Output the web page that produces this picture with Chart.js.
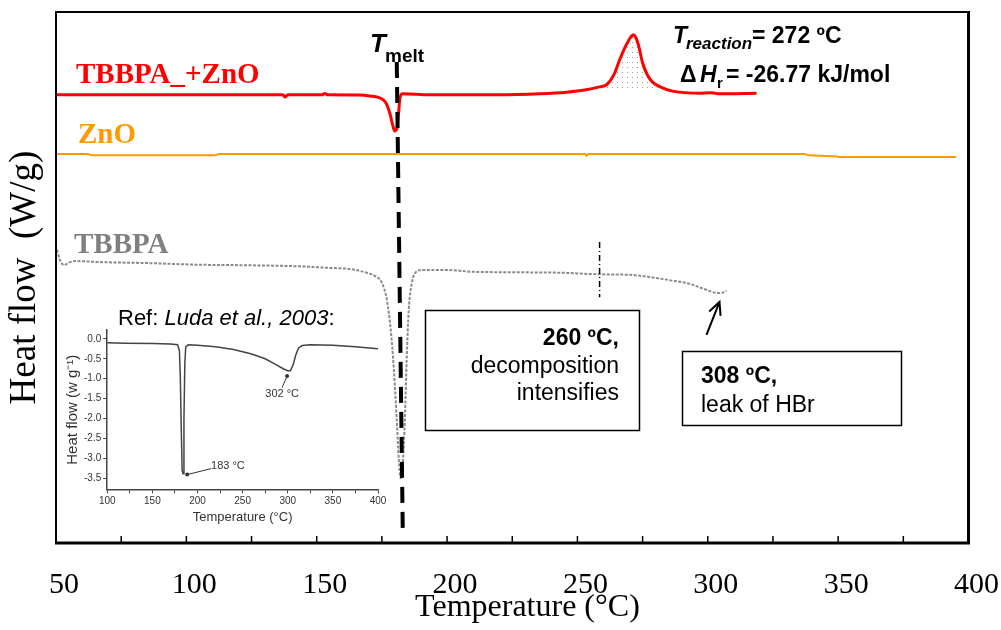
<!DOCTYPE html>
<html>
<head>
<meta charset="utf-8">
<script src="https://cdn.jsdelivr.net/npm/chart.js@4.4.0/dist/chart.umd.min.js"></script>
<style>
  body { margin: 0; background: #fff; }
  #wrap { position: relative; width: 1001px; height: 630px; }
  #main { position: absolute; left: 0; top: 0; }
  #inset { position: absolute; left: 40px; top: 322px; }
</style>
</head>
<body>
<div id="wrap">
  <canvas id="main" width="1001" height="630"></canvas>
  <canvas id="inset" width="350" height="205"></canvas>
</div>
<script>
// main DSC curves: temperature (°C) and heat flow (arbitrary, offset curves)
const tbbpaZnoT = [50, 86, 137, 137.8, 138.9, 152, 153.1, 154.3, 166.5, 170.4, 174.2, 176.5, 178, 179.2, 179.9,
  180.7, 181.5, 181.9, 183, 193.3, 220.2, 235.5, 245.9, 252.8, 258.5, 261.2, 263.9, 266.2, 268.1, 269.7,
  270.8, 271.5, 272.3, 273.4, 275, 276.9, 278.8, 282.6, 286.5, 296.8, 301.4, 304.5, 318.7];
const tbbpaZnoHF = [84.4, 84.4, 84.4, 84.0, 84.4, 84.4, 84.65, 84.4, 84.37, 84.18, 83.8, 82.9, 81.0, 78.6, 77.6,
  78.0, 81.5, 83.8, 84.6, 84.4, 84.4, 84.6, 84.9, 85.3, 85.9, 86.3, 88.1, 91.0, 93.2, 94.7,
  95.5, 95.7, 95.3, 93.8, 90.4, 88.1, 86.8, 85.7, 85.1, 84.7, 84.8, 84.6, 84.7];

const znoT = [50, 62.3, 63.8, 111, 112.5, 252.8, 253.5, 254.3, 337, 339, 349.7, 350.5, 395.3];
const znoHF = [73.26, 73.26, 73.0, 73.0, 73.26, 73.26, 72.9, 73.26, 73.26, 73.0, 72.8, 72.7, 72.7];

const tbbpaT = [50.4, 51.5, 53.1, 55.4, 57.3, 66.9, 86, 105.2, 124.4, 143.5, 155, 162.7, 168.4, 172.3, 175,
  176.9, 178.4, 179.6, 180.7, 181.5, 182.2, 183, 183.8, 184.5, 185.3, 186.5, 188, 190.3, 201, 208.7,
  220.2, 243.2, 258.5, 270, 277.7, 285.3, 293, 298.8, 303.7, 305.3, 307.2];
const tbbpaHF = [55.2, 53.3, 52.35, 52.9, 53.1, 52.9, 52.7, 52.4, 52.3, 52.1, 51.8, 51.6, 51.0, 50.3, 49.0,
  45.8, 40.1, 32.6, 23.2, 15.6, 12.2, 14.7, 23.2, 34.5, 43.9, 49.0, 51.0, 51.4, 51.4, 51.1,
  51.0, 50.9, 50.6, 50.5, 50.1, 49.5, 48.8, 47.8, 47.1, 47.1, 47.5];

// reaction peak integration window and its baseline
const peakRange = [248, 292];
const peakBaseline = 85.3;

// marker lines
const meltT = [180.7, 183.0];
const meltHF = [90.6, 2.45];
const decompT = [258.5, 258.5];
const decompHF = [56.7, 46.3];
const leakArrowT = [299.5, 304.5];
const leakArrowHF = [39.2, 45.4];

const xTicks = [50, 100, 150, 200, 250, 300, 350, 400];

// inset (Luda et al., 2003)
const insetT = [100, 120, 150, 170, 178, 180, 181, 182, 183, 184, 185, 186, 187, 190, 200, 220, 240, 260, 275, 285,
  295, 300, 303, 306, 309, 312, 316, 325, 350, 375, 400];
const insetHF = [-0.10, -0.11, -0.12, -0.13, -0.15, -0.3, -1.0, -2.2, -3.3, -3.38, -2.0, -0.6, -0.2, -0.15, -0.16,
  -0.2, -0.27, -0.38, -0.5, -0.62, -0.75, -0.8, -0.8, -0.65, -0.4, -0.23, -0.17, -0.15, -0.16, -0.2, -0.25];
const insetXTicks = [100, 150, 200, 250, 300, 350, 400];
const insetYTicks = [0, -0.5, -1.0, -1.5, -2.0, -2.5, -3.0, -3.5];

const pts = (xs, ys) => xs.map((v, i) => ({ x: v, y: ys[i] }));

const redPts = pts(tbbpaZnoT, tbbpaZnoHF);
const peakPts = redPts.filter(p => p.x >= peakRange[0] && p.x <= peakRange[1]);

const mainCanvas = document.getElementById('main');
const mctx = mainCanvas.getContext('2d');

function dotPattern() {
  const c = document.createElement('canvas');
  c.width = 5; c.height = 5;
  const g = c.getContext('2d');
  g.fillStyle = '#9a9a9a';
  g.fillRect(2, 2, 1, 1);
  return mctx.createPattern(c, 'repeat');
}

function drawPieces(ctx, x, y, pieces) {
  // pieces: [text, font, dx, dy]
  pieces.forEach(p => {
    ctx.font = p[1];
    ctx.fillText(p[0], x + p[2], y + p[3]);
  });
}

const decorations = {
  id: 'decorations',
  afterDatasetsDraw(chart) {
    const { ctx, chartArea: a, scales: { x, y } } = chart;
    ctx.save();
    ctx.strokeStyle = '#000';
    ctx.lineWidth = 2;
    ctx.strokeRect(a.left, a.top, a.right - a.left, a.bottom - a.top);
    ctx.lineWidth = 3;
    ctx.beginPath();
    ctx.moveTo(a.left - 1, a.bottom);
    ctx.lineTo(a.right, a.bottom);
    ctx.lineTo(a.right, a.top - 1);
    ctx.stroke();

    // inward ticks
    ctx.lineWidth = 1.5;
    x.ticks.forEach(t => {
      const px = x.getPixelForValue(t.value);
      ctx.beginPath();
      ctx.moveTo(px, a.bottom);
      ctx.lineTo(px, a.bottom - 7);
      ctx.stroke();
    });

    // arrow to HBr leak
    const x0 = x.getPixelForValue(leakArrowT[0]), y0 = y.getPixelForValue(leakArrowHF[0]);
    const x1 = x.getPixelForValue(leakArrowT[1]), y1 = y.getPixelForValue(leakArrowHF[1]);
    const ang = Math.atan2(y1 - y0, x1 - x0);
    ctx.lineWidth = 2;
    ctx.beginPath();
    ctx.moveTo(x0, y0);
    ctx.lineTo(x1, y1);
    ctx.moveTo(x1 - 14 * Math.cos(ang - 0.45), y1 - 14 * Math.sin(ang - 0.45));
    ctx.lineTo(x1, y1);
    ctx.lineTo(x1 - 14 * Math.cos(ang + 0.45), y1 - 14 * Math.sin(ang + 0.45));
    ctx.stroke();

    // series labels
    ctx.textBaseline = 'alphabetic';
    ctx.textAlign = 'left';
    ctx.fillStyle = '#ff0000';
    ctx.font = 'bold 29px "Liberation Serif"';
    ctx.fillText('TBBPA_+ZnO', 76, 83);
    ctx.fillStyle = '#ff9900';
    ctx.font = 'bold 29px "Liberation Serif"';
    ctx.fillText('ZnO', 78, 143);
    ctx.fillStyle = '#808080';
    ctx.font = 'bold 29px "Liberation Serif"';
    ctx.fillText('TBBPA', 74, 253);

    // T melt
    ctx.fillStyle = '#000';
    drawPieces(ctx, 370, 52, [
      ['T', 'bold italic 26px "Liberation Sans"', 0, 0],
      ['melt', 'bold 19px "Liberation Sans"', 15, 10]
    ]);

    // reaction
    drawPieces(ctx, 673, 43, [
      ['T', 'bold italic 23px "Liberation Sans"', 0, 0],
      ['reaction', 'bold italic 17px "Liberation Sans"', 13, 6],
      ['= 272 ºC', 'bold 23px "Liberation Sans"', 79, 0]
    ]);
    drawPieces(ctx, 680, 82, [
      ['Δ', 'bold 23px "Liberation Sans"', 0, 0],
      ['H', 'bold italic 23px "Liberation Sans"', 20, 0],
      ['r', 'bold 15px "Liberation Sans"', 37, 6],
      ['= -26.77 kJ/mol', 'bold 23px "Liberation Sans"', 46, 0]
    ]);

    // boxes
    ctx.lineWidth = 1.5;
    ctx.strokeRect(425.5, 310.5, 214, 120);
    ctx.strokeRect(682.5, 351.5, 219, 74);
    ctx.textAlign = 'right';
    ctx.font = 'bold 23px "Liberation Sans"';
    ctx.fillText('260 ºC,', 619, 345);
    ctx.font = '23px "Liberation Sans"';
    ctx.fillText('decomposition', 619, 373);
    ctx.fillText('intensifies', 619, 400);
    ctx.textAlign = 'left';
    ctx.font = 'bold 23px "Liberation Sans"';
    ctx.fillText('308 ºC,', 701, 383);
    ctx.font = '23px "Liberation Sans"';
    ctx.fillText('leak of HBr', 701, 412);

    // inset reference caption
    ctx.font = '22px "Liberation Sans"';
    ctx.fillText('Ref: ', 118, 325);
    let w = ctx.measureText('Ref: ').width;
    ctx.font = 'italic 22px "Liberation Sans"';
    ctx.fillText('Luda et al., 2003', 118 + w, 325);
    w += ctx.measureText('Luda et al., 2003').width;
    ctx.font = '22px "Liberation Sans"';
    ctx.fillText(':', 118 + w, 325);
    ctx.restore();
  }
};

new Chart(mctx, {
  type: 'scatter',
  data: {
    datasets: [
      {
        data: pts(meltT, meltHF), showLine: true, borderColor: '#000', borderWidth: 4,
        borderDash: [16, 9], pointRadius: 0, order: 0
      },
      {
        data: pts(decompT, decompHF), showLine: true, borderColor: '#000', borderWidth: 1.5,
        borderDash: [6, 3, 1, 3], pointRadius: 0, order: 1
      },
      {
        data: redPts, showLine: true, borderColor: '#ff0000', borderWidth: 3,
        cubicInterpolationMode: 'monotone', pointRadius: 0, order: 2
      },
      {
        data: peakPts, showLine: true, borderWidth: 0, borderColor: 'rgba(0,0,0,0)',
        cubicInterpolationMode: 'monotone', pointRadius: 0, order: 5,
        fill: { target: { value: peakBaseline }, above: dotPattern(), below: 'rgba(0,0,0,0)' }
      },
      {
        data: pts(znoT, znoHF), showLine: true, borderColor: '#ff9900', borderWidth: 2,
        pointRadius: 0, order: 3
      },
      {
        data: pts(tbbpaT, tbbpaHF), showLine: true, borderColor: '#8a8a8a', borderWidth: 2,
        borderDash: [3, 1.5], cubicInterpolationMode: 'monotone', pointRadius: 0, order: 4
      }
    ]
  },
  options: {
    responsive: false,
    animation: false,
    layout: { padding: { top: 12, right: 23, left: 7, bottom: 0 } },
    plugins: { legend: { display: false }, tooltip: { enabled: false } },
    scales: {
      x: {
        type: 'linear', min: 50, max: 400,
        afterFit: s => { s.height = 87; },
        ticks: {
          stepSize: 25, autoSkip: false, maxRotation: 0, labelOffset: 8, padding: 10,
          callback: v => (xTicks.includes(v) ? v : ''),
          font: { family: 'Liberation Serif', size: 30, lineHeight: 2.15 }, color: '#000'
        },
        grid: { display: false, drawTicks: false },
        border: { display: false },
        title: {
          display: true, text: '   \u2009Temperature (°C)', color: '#000',
          font: { family: 'Liberation Serif', size: 32, lineHeight: 1 },
          padding: { top: 0, bottom: 6 }
        }
      },
      y: {
        min: 0, max: 100,
        afterFit: s => { s.width = 49; },
        ticks: { display: false },
        grid: { display: false, drawTicks: false },
        border: { display: false },
        title: {
          display: true, text: 'Heat flow  (W/g)', color: '#000',
          font: { family: 'Liberation Serif', size: 37, lineHeight: 1 },
          padding: { top: 0, bottom: 12 }
        }
      }
    }
  },
  plugins: [decorations]
});

// inset chart
const insetNotes = {
  id: 'insetNotes',
  afterDatasetsDraw(chart) {
    const { ctx, scales: { x, y } } = chart;
    ctx.save();
    ctx.strokeStyle = '#333';
    ctx.fillStyle = '#333';
    ctx.lineWidth = 1;
    const seg = (ax, ay, bx, by) => {
      const p0 = [x.getPixelForValue(ax), y.getPixelForValue(ay)];
      const p1 = [x.getPixelForValue(bx), y.getPixelForValue(by)];
      ctx.beginPath();
      ctx.moveTo(p0[0], p0[1]);
      ctx.lineTo(p1[0], p1[1]);
      ctx.stroke();
      ctx.beginPath();
      ctx.arc(p1[0], p1[1], 2, 0, Math.PI * 2);
      ctx.fill();
    };
    seg(215, -3.25, 188.6, -3.4);
    seg(293.8, -1.22, 299.3, -0.93);
    ctx.font = '11px "Liberation Sans"';
    ctx.textBaseline = 'middle';
    ctx.fillText('183 °C', x.getPixelForValue(215), y.getPixelForValue(-3.18));
    ctx.textAlign = 'center';
    ctx.fillText('302 °C', x.getPixelForValue(293.8), y.getPixelForValue(-1.375));
    ctx.restore();
  }
};

new Chart(document.getElementById('inset').getContext('2d'), {
  type: 'scatter',
  data: {
    datasets: [{
      data: pts(insetT, insetHF), showLine: true, borderColor: '#444', borderWidth: 1.5,
      pointRadius: 0
    }]
  },
  options: {
    responsive: false,
    animation: false,
    layout: { padding: { top: 8, right: 12, left: 24, bottom: 0 } },
    plugins: { legend: { display: false }, tooltip: { enabled: false } },
    scales: {
      x: {
        type: 'linear', min: 100, max: 400,
        ticks: {
          stepSize: 25, autoSkip: false, maxRotation: 0, padding: 2,
          callback: v => (insetXTicks.includes(v) ? v : ''),
          font: { family: 'Liberation Sans', size: 10 }, color: '#333'
        },
        grid: { drawOnChartArea: false, tickLength: 4, color: '#444' },
        border: { color: '#444', width: 1.5 },
        title: {
          display: true, text: 'Temperature (°C)', color: '#333',
          font: { family: 'Liberation Sans', size: 13 }, padding: { top: 0, bottom: 2 }
        }
      },
      y: {
        min: -3.77, max: 0.22,
        afterBuildTicks: s => { s.ticks = insetYTicks.map(v => ({ value: v })); },
        ticks: {
          padding: 2,
          callback: v => v.toFixed(1),
          font: { family: 'Liberation Sans', size: 10 }, color: '#333'
        },
        grid: { drawOnChartArea: false, tickLength: 4, color: '#444' },
        border: { color: '#444', width: 1.5 },
        title: {
          display: true, text: 'Heat flow (w g⁻¹)', color: '#333',
          font: { family: 'Liberation Sans', size: 15 }, padding: 0
        }
      }
    }
  },
  plugins: [insetNotes]
});
</script>
</body>
</html>
